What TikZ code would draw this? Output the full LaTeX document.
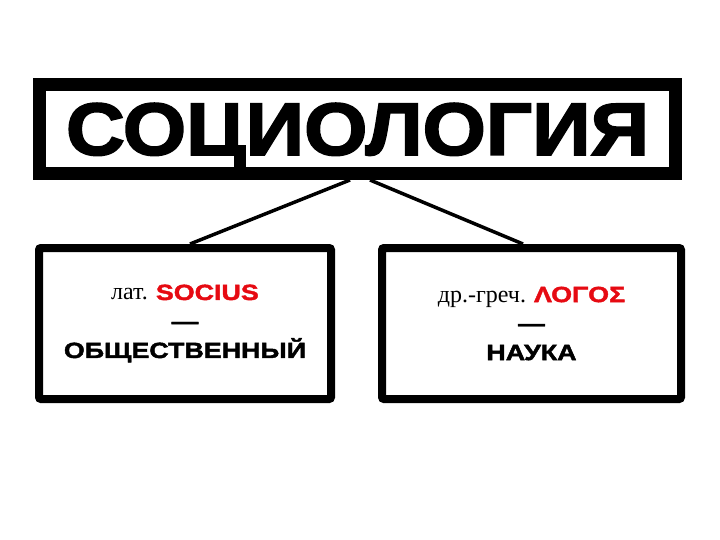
\documentclass[tikz,border=0pt]{standalone}
\usepackage{fontspec}
\setmainfont{Liberation Serif}
\newfontface\heavyfont{Liberation Sans Bold}[FakeBold=2.5,FakeStretch=1.1]
\newfontface\boxfont{Liberation Sans Bold}[FakeBold=2,FakeStretch=1.22]
\newcommand\wordfont{\boxfont\fontsize{22}{29}\selectfont}
\definecolor{wordred}{RGB}{230,10,18}

\begin{document}
\begin{tikzpicture}[x=1pt, y=-1pt, frame/.style={draw, line width=8pt, rounded corners=2pt, minimum width=292pt, minimum height=151pt, inner sep=0pt, align=center, font=\fontsize{24}{29}\selectfont}, link/.style={line width=3.5pt}]
	\useasboundingbox (0,0) rectangle (720,540);
	\node(title)[draw, line width=13pt, minimum width=636pt, minimum height=89pt, inner sep=0pt, text depth=0pt, font=\heavyfont\fontsize{74}{74}\selectfont] at (357.5,129) {СОЦИОЛОГИЯ};
	\node(latbox)[frame] at (185,323.5) {лат. {\wordfont\color{wordred}SOCIUS}\\{\wordfont —}\\{\wordfont ОБЩЕСТВЕННЫЙ}};
	\node(grbox)[frame, minimum width=299pt] at (531.5,323.5) {др.-греч. {\wordfont\color{wordred}ΛΟΓΟΣ}\\{\wordfont —}\\{\wordfont НАУКА}};
	\draw[link] ([xshift=-7.5pt]title.south) -- ([xshift=5pt]latbox.north);
	\draw[link] ([xshift=12.5pt]title.south) -- ([xshift=-8.5pt]grbox.north);
\end{tikzpicture}
\end{document}
